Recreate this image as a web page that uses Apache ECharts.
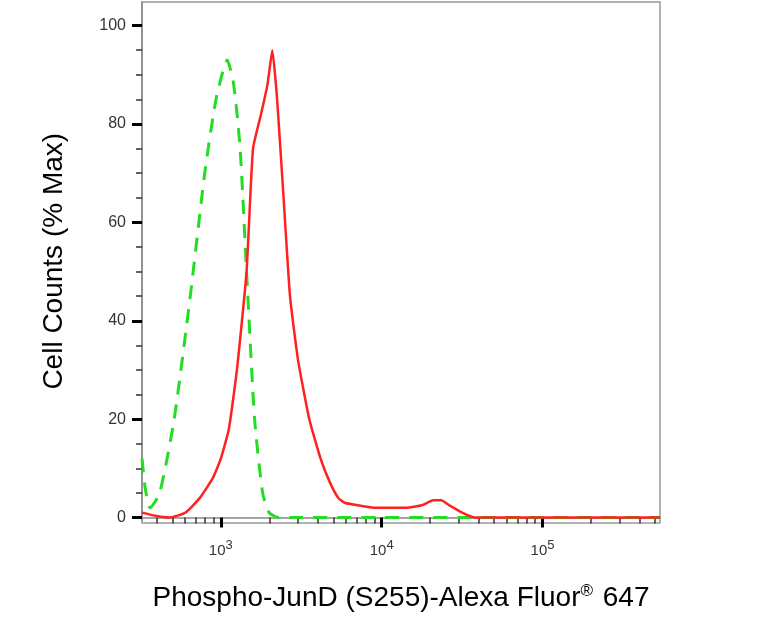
<!DOCTYPE html>
<html><head><meta charset="utf-8">
<script src="https://cdn.jsdelivr.net/npm/echarts@6/dist/echarts.min.js"></script>
<style>html,body{margin:0;background:#fff}#c{width:779px;height:617px}</style>
</head><body><div id="c"></div>
<script>
const redX = [2.51,2.6,2.68,2.78,2.87,2.95,3.0,3.05,3.1,3.16,3.2,3.25,3.29,3.32,3.35,3.39,3.43,3.48,3.55,3.62,3.68,3.73,3.77,3.85,3.95,4.05,4.15,4.25,4.32,4.37,4.42,4.5,4.58,4.7,5.0,5.4,5.73];
const redY = [1,0.3,0,1,4,8,12,18,30,50,75,82,88,95,85,65,45,32,20,12,7,4,3,2.5,2,2,2,2.5,3.5,3.5,2.5,1,0,0,0,0,0];
const greenX = [2.51,2.53,2.56,2.62,2.71,2.81,2.9,2.97,3.04,3.08,3.12,3.16,3.21,3.26,3.3,3.36,3.5,4.0,4.5,5.0,5.73];
const greenY = [12,6,2,5,20,45,70,85,93,88,75,50,20,5,1,0,0,0,0,0,0];
const majorTicks = [3,4,5];
const minorTicks = [];
[2,3,4,5].forEach(d=>{for(let m=2;m<=9;m++){const v=d+Math.log10(m);if(v>2.51&&v<5.73)minorTicks.push(v);}});
const yMajor=[0,20,40,60,80,100];

const chart = echarts.init(document.getElementById('c'));
chart.setOption({
  animation:false,
  grid:[{left:142,right:119,top:2,bottom:94}],
  xAxis:[{type:'value',min:2.51,max:5.73,
    axisLine:{show:true,lineStyle:{color:'#888',width:1.5}},
    splitLine:{show:false},
    axisTick:{show:true,customValues:minorTicks,length:6,lineStyle:{color:'#333',width:1.5}},
    axisLabel:{show:false}},
   {type:'value',min:2.51,max:5.73,position:'bottom',
    axisLine:{show:false},splitLine:{show:false},
    axisTick:{show:true,customValues:majorTicks,length:10,lineStyle:{color:'#000',width:3}},
    axisLabel:{show:true,customValues:majorTicks,margin:18,color:'#333',fontFamily:'Liberation Sans',
      formatter:v=>'10{s|'+Math.round(v)+'}',fontSize:15,
      rich:{s:{fontSize:13,verticalAlign:'top',padding:[0,0,12,0],color:'#333',fontFamily:'Liberation Sans'}}},
    name:'Phospho-JunD (S255)-Alexa Fluor{s|®} 647',nameLocation:'middle',nameGap:62,
    nameTextStyle:{fontSize:28,color:'#000',fontFamily:'Liberation Sans',
      rich:{s:{fontSize:17,verticalAlign:'top',padding:[0,2,14,0],color:'#000',fontFamily:'Liberation Sans'}}}}],
  yAxis:[{type:'value',min:-0.6,max:104.8,
    axisLine:{show:true,lineStyle:{color:'#888',width:1.5}},
    splitLine:{show:false},
    axisTick:{show:true,customValues:[5,10,15,25,30,35,45,50,55,65,70,75,85,90,95],length:6,lineStyle:{color:'#333',width:1.5}},
    axisLabel:{show:false}},
   {type:'value',min:-0.6,max:104.8,position:'left',
    axisLine:{show:false},splitLine:{show:false},
    axisTick:{show:true,customValues:yMajor,length:10,lineStyle:{color:'#000',width:3}},
    axisLabel:{show:true,customValues:yMajor,margin:16,fontSize:16,color:'#333',fontFamily:'Liberation Sans'},
    name:'Cell Counts (% Max)',nameLocation:'middle',nameGap:74,
    nameTextStyle:{fontSize:28,color:'#000',fontFamily:'Liberation Sans'}}],
  graphic:[{type:'rect',shape:{x:142,y:2,width:779-119-142,height:617-94-2},style:{fill:'none',stroke:'#999',lineWidth:1.5},silent:true}],
  series:[
    {type:'line',xAxisIndex:0,yAxisIndex:0,data:greenX.map((x,i)=>[x,greenY[i]]),showSymbol:false,smooth:0.2,
     lineStyle:{color:'#22dd22',width:3,type:[14,10]}},
    {type:'line',xAxisIndex:0,yAxisIndex:0,data:redX.map((x,i)=>[x,redY[i]]),showSymbol:false,smooth:0.15,
     lineStyle:{color:'#ff2020',width:2.5}}
  ]
});
</script></body></html>
